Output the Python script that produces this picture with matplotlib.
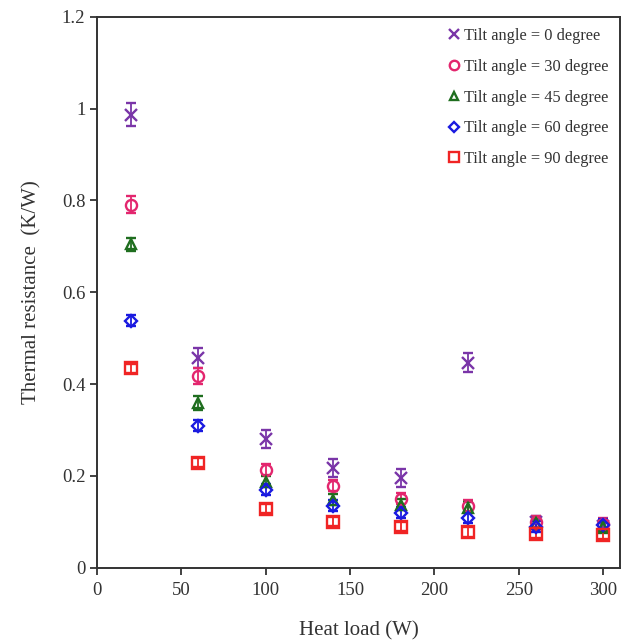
import numpy as np
import matplotlib.pyplot as plt

plt.rcParams['font.family'] = ['Liberation Serif', 'DejaVu Serif']

# heat load (W) and thermal resistance (K/W) for each tilt angle
heat_load = [20, 60, 100, 140, 180, 220, 260, 300]

r_0 = [0.987, 0.457, 0.281, 0.217, 0.195, 0.447, 0.100, 0.090]
r_30 = [0.791, 0.418, 0.213, 0.179, 0.150, 0.135, 0.100, 0.096]
r_45 = [0.704, 0.359, 0.187, 0.148, 0.137, 0.131, 0.097, 0.088]
r_60 = [0.538, 0.309, 0.170, 0.135, 0.120, 0.109, 0.089, 0.094]
r_90 = [0.434, 0.229, 0.129, 0.100, 0.089, 0.078, 0.074, 0.072]

err_0 = [0.025, 0.022, 0.020, 0.020, 0.020, 0.020, 0.012, 0.012]
err_30 = [0.018, 0.018, 0.012, 0.012, 0.012, 0.012, 0.012, 0.012]
err_45 = [0.015, 0.015, 0.012, 0.012, 0.012, 0.012, 0.012, 0.012]
err_60 = [0.012, 0.012, 0.012, 0.012, 0.012, 0.012, 0.012, 0.012]
err_90 = [0.010, 0.010, 0.010, 0.010, 0.010, 0.010, 0.010, 0.010]

series = [
    (r_0, err_0, 'x', 8, '#7a35a8', 'Tilt angle = 0 degree'),
    (r_30, err_30, 'o', 8, '#e3266e', 'Tilt angle = 30 degree'),
    (r_45, err_45, '^', 7.5, '#1f6e1f', 'Tilt angle = 45 degree'),
    (r_60, err_60, 'D', 6.5, '#1a1ae0', 'Tilt angle = 60 degree'),
    (r_90, err_90, 's', 8, '#f02424', 'Tilt angle = 90 degree'),
]

fig = plt.figure(figsize=(6.23, 6.43), dpi=100)
ax = fig.add_axes([0.156, 0.117, 0.839, 0.857])

for r, e, m, ms, c, lab in series:
    ax.errorbar(heat_load, r, yerr=e, fmt=m, color=c, mfc='none', mec=c,
                ms=ms, mew=1.7, elinewidth=1.3, capsize=3.5, capthick=1.3,
                label=lab)

ax.set_xlim(0, 310)
ax.set_ylim(0, 1.2)
ax.set_xticks([0, 50, 100, 150, 200, 250, 300])
ax.set_yticks([0, 0.2, 0.4, 0.6, 0.8, 1.0, 1.2])
ax.set_yticklabels(['0', '0.2', '0.4', '0.6', '0.8', '1', '1.2'])
ax.tick_params(axis='both', direction='out', length=5, width=1.3,
               labelsize=13.5, colors='#333333', labelcolor='#333333')
ax.tick_params(axis='x', pad=5)
for s in ax.spines.values():
    s.set_linewidth(1.4)
    s.set_color('#333333')

ax.set_xlabel('Heat load (W)', fontsize=15, color='#333333', labelpad=16)
ax.set_ylabel('Thermal resistance  (K/W)', fontsize=15, color='#333333',
              labelpad=15)

handles, labels = ax.get_legend_handles_labels()
handles = [h[0] for h in handles]
leg = ax.legend(handles, labels, loc='upper right', frameon=False,
                fontsize=11.8, handlelength=0.6, handletextpad=0.3,
                labelspacing=0.9, borderaxespad=0.3, markerscale=0.85)
for t in leg.get_texts():
    t.set_color('#333333')

fig.savefig('out.png', dpi=100)
